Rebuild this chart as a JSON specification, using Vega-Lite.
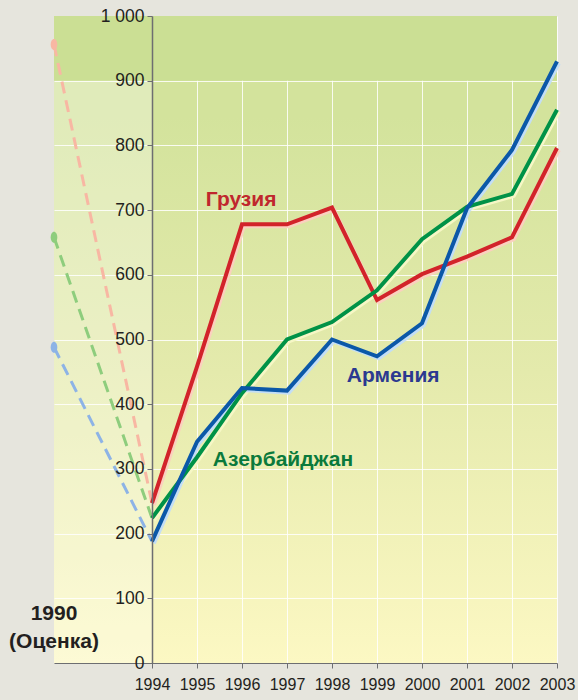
{
  "$schema": "https://vega.github.io/schema/vega-lite/v6.json",
  "width": 503,
  "height": 647,
  "autosize": "none",
  "padding": {"left": 54, "top": 16, "right": 21, "bottom": 37},
  "background": "#e6e5dd",
  "config": {
    "font": "Liberation Sans",
    "view": {
      "stroke": null,
      "fill": {"gradient": "linear", "x1": 0, "y1": 0, "x2": 0, "y2": 1,
        "stops": [
          {"offset": 0, "color": "#d3e39c"},
          {"offset": 0.155, "color": "#d3e39c"},
          {"offset": 0.55, "color": "#e4eaac"},
          {"offset": 1, "color": "#fcf8c3"}
        ]}
    }
  },
  "data": {"values": [
    {"country": "Грузия", "year": 1990, "value": 956},
    {"country": "Грузия", "year": 1994, "value": 247},
    {"country": "Грузия", "year": 1995, "value": 458},
    {"country": "Грузия", "year": 1996, "value": 678},
    {"country": "Грузия", "year": 1997, "value": 678},
    {"country": "Грузия", "year": 1998, "value": 704},
    {"country": "Грузия", "year": 1999, "value": 561},
    {"country": "Грузия", "year": 2000, "value": 601},
    {"country": "Грузия", "year": 2001, "value": 628},
    {"country": "Грузия", "year": 2002, "value": 658},
    {"country": "Грузия", "year": 2003, "value": 796},
    {"country": "Азербайджан", "year": 1990, "value": 658},
    {"country": "Азербайджан", "year": 1994, "value": 224},
    {"country": "Азербайджан", "year": 1995, "value": 318},
    {"country": "Азербайджан", "year": 1996, "value": 417},
    {"country": "Азербайджан", "year": 1997, "value": 500},
    {"country": "Азербайджан", "year": 1998, "value": 527},
    {"country": "Азербайджан", "year": 1999, "value": 576},
    {"country": "Азербайджан", "year": 2000, "value": 655},
    {"country": "Азербайджан", "year": 2001, "value": 705},
    {"country": "Азербайджан", "year": 2002, "value": 725},
    {"country": "Азербайджан", "year": 2003, "value": 855},
    {"country": "Армения", "year": 1990, "value": 488},
    {"country": "Армения", "year": 1994, "value": 188},
    {"country": "Армения", "year": 1995, "value": 342},
    {"country": "Армения", "year": 1996, "value": 425},
    {"country": "Армения", "year": 1997, "value": 421},
    {"country": "Армения", "year": 1998, "value": 500},
    {"country": "Армения", "year": 1999, "value": 474},
    {"country": "Армения", "year": 2000, "value": 525},
    {"country": "Армения", "year": 2001, "value": 703},
    {"country": "Армения", "year": 2002, "value": 793},
    {"country": "Армения", "year": 2003, "value": 930}
  ]},
  "resolve": {"axis": {"x": "independent", "y": "independent"}, "scale": {"color": "independent"}},
  "layer": [
    {
      "data": {"values": [{}]},
      "mark": {"type": "rect", "color": "#cbdf94"},
      "encoding": {
        "x": {"datum": 1990, "type": "quantitative",
          "scale": {"type": "linear", "domain": [1990, 1994, 2003], "range": [0, 98, 503], "nice": false, "zero": false},
          "axis": {"orient": "bottom", "grid": true, "gridColor": "#ffffff", "gridOpacity": 0.85, "labels": false, "ticks": false, "domain": false, "title": null,
            "values": [1995, 1996, 1997, 1998, 1999, 2000, 2001, 2002, 2003], "zindex": 0}},
        "x2": {"datum": 2003},
        "y": {"datum": 900, "type": "quantitative",
          "scale": {"domain": [0, 1000], "nice": false, "zero": true},
          "axis": {"orient": "left", "grid": true, "gridColor": "#ffffff", "gridOpacity": 0.85, "labels": false, "ticks": false, "domain": false, "title": null,
            "values": [100, 200, 300, 400, 500, 600, 700, 800, 900], "zindex": 0}},
        "y2": {"datum": 1000}
      }
    },
    {
      "data": {"values": [{}]},
      "mark": {"type": "rect", "color": "#ffffff", "opacity": 0.3},
      "encoding": {
        "x": {"datum": 1990, "type": "quantitative", "axis": null},
        "x2": {"datum": 1994},
        "y": {"datum": 0, "type": "quantitative", "axis": null},
        "y2": {"datum": 900}
      }
    },
    {
      "transform": [{"filter": "datum.year <= 1994"}],
      "mark": {"type": "line", "strokeDash": [12, 7], "strokeWidth": 3, "interpolate": "linear"},
      "encoding": {
        "x": {"field": "year", "type": "quantitative", "axis": null},
        "y": {"field": "value", "type": "quantitative", "axis": null},
        "color": {"field": "country", "type": "nominal", "legend": null,
          "scale": {"domain": ["Грузия", "Азербайджан", "Армения"], "range": ["#f8b7a3", "#8ecd7d", "#8db3e6"]}}
      }
    },
    {
      "transform": [{"filter": "datum.year == 1990"}],
      "mark": {"type": "point", "filled": true, "opacity": 1, "size": 121,
        "shape": "M0,-1 A0.6,1 0 1,1 0,1 A0.6,1 0 1,1 0,-1 Z"},
      "encoding": {
        "x": {"field": "year", "type": "quantitative", "axis": null},
        "y": {"field": "value", "type": "quantitative", "axis": null},
        "color": {"field": "country", "type": "nominal", "legend": null,
          "scale": {"domain": ["Грузия", "Азербайджан", "Армения"], "range": ["#f8b7a3", "#8ecd7d", "#8db3e6"]}}
      }
    },
    {
      "transform": [{"filter": "datum.year >= 1994"}],
      "mark": {"type": "line", "strokeWidth": 4, "xOffset": 1.8, "yOffset": 2},
      "encoding": {
        "x": {"field": "year", "type": "quantitative", "axis": null},
        "y": {"field": "value", "type": "quantitative", "axis": null},
        "color": {"field": "country", "type": "nominal", "legend": null,
          "scale": {"domain": ["Грузия", "Азербайджан", "Армения"], "range": ["#fbd0bf", "#f6f7c6", "#c3def6"]}}
      }
    },
    {
      "transform": [{"filter": "datum.year >= 1994"}],
      "mark": {"type": "line", "strokeWidth": 4},
      "encoding": {
        "x": {"field": "year", "type": "quantitative",
          "axis": {"orient": "bottom", "values": [1994, 1995, 1996, 1997, 1998, 1999, 2000, 2001, 2002, 2003], "format": "d", "grid": false, "title": null,
            "labelFontSize": 16, "labelColor": "#231f20", "labelFlush": false, "labelOverlap": false,
            "domainColor": "#6d6e71", "tickColor": "#6d6e71", "tickSize": 5, "labelPadding": 8, "zindex": 1}},
        "y": {"field": "value", "type": "quantitative",
          "axis": {"orient": "left", "offset": -98, "values": [0, 100, 200, 300, 400, 500, 600, 700, 800, 900, 1000], "grid": false, "title": null,
            "labelFontSize": 17.5, "labelColor": "#231f20", "labelFlush": false, "labelOverlap": false,
            "labelExpr": "datum.value == 1000 ? '1 000' : datum.label",
            "domainColor": "#6d6e71", "domainWidth": 1.5, "tickColor": "#6d6e71", "tickSize": 5, "labelPadding": 3, "zindex": 1}},
        "color": {"field": "country", "type": "nominal", "legend": null,
          "scale": {"domain": ["Грузия", "Азербайджан", "Армения"], "range": ["#d2232a", "#009247", "#0b58a8"]}}
      }
    },
    {
      "data": {"values": [{}]},
      "mark": {"type": "text", "text": "Грузия", "fontSize": 21, "fontWeight": "bold", "color": "#c0272d", "align": "center", "baseline": "alphabetic"},
      "encoding": {
        "x": {"datum": 1995.98, "type": "quantitative", "axis": null},
        "y": {"datum": 706, "type": "quantitative", "axis": null}
      }
    },
    {
      "data": {"values": [{}]},
      "mark": {"type": "text", "text": "Армения", "fontSize": 21, "fontWeight": "bold", "color": "#2b3990", "align": "center", "baseline": "alphabetic"},
      "encoding": {
        "x": {"datum": 1999.36, "type": "quantitative", "axis": null},
        "y": {"datum": 434, "type": "quantitative", "axis": null}
      }
    },
    {
      "data": {"values": [{}]},
      "mark": {"type": "text", "text": "Азербайджан", "fontSize": 21, "fontWeight": "bold", "color": "#0a7a3c", "align": "center", "baseline": "alphabetic"},
      "encoding": {
        "x": {"datum": 1996.91, "type": "quantitative", "axis": null},
        "y": {"datum": 304, "type": "quantitative", "axis": null}
      }
    },
    {
      "data": {"values": [{}]},
      "mark": {"type": "text", "text": "1990", "fontSize": 21, "fontWeight": "bold", "color": "#231f20", "align": "center", "baseline": "alphabetic"},
      "encoding": {
        "x": {"datum": 1990, "type": "quantitative", "axis": null},
        "y": {"datum": 66, "type": "quantitative", "axis": null}
      }
    },
    {
      "data": {"values": [{}]},
      "mark": {"type": "text", "text": "(Оценка)", "fontSize": 21, "fontWeight": "bold", "color": "#231f20", "align": "center", "baseline": "alphabetic"},
      "encoding": {
        "x": {"datum": 1990, "type": "quantitative", "axis": null},
        "y": {"datum": 23, "type": "quantitative", "axis": null}
      }
    }
  ]
}
